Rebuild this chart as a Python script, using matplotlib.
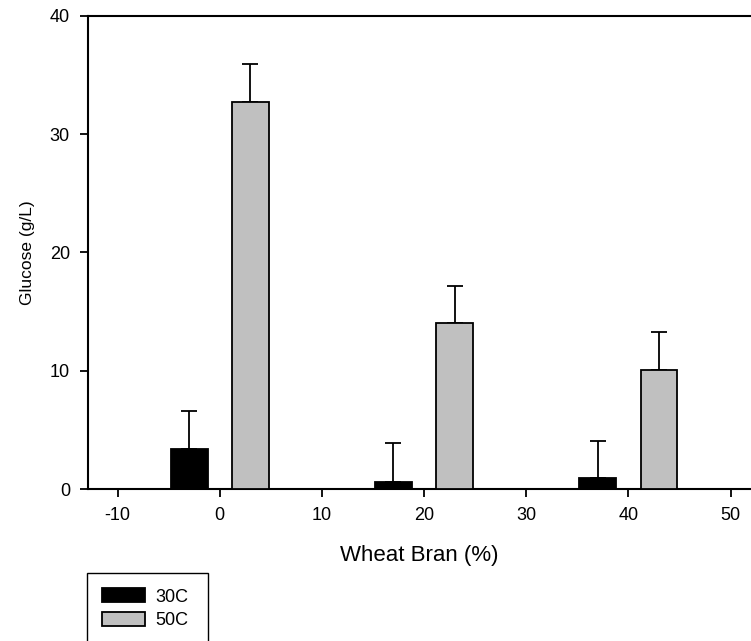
import matplotlib.pyplot as plt
import numpy as np

plt.rcParams["font.family"] = ["Liberation Sans", "DejaVu Sans"]
plt.rcParams["axes.unicode_minus"] = False

wheat_bran = [0, 20, 40]
glucose_30c = [3.42, 0.62, 0.90]
err_30c = [3.15, 3.25, 3.2]
glucose_50c = [32.7, 14.0, 10.1]
err_50c = [3.2, 3.2, 3.2]

fig = plt.figure(figsize=(7.51, 6.41), dpi=100)
ax = fig.add_axes([88 / 751, 1 - 489 / 641, 1 - 88 / 751, (489 - 16) / 641])

x = np.array(wheat_bran, dtype=float)
off = 3.0
width = 3.6

ax.bar(x - off, glucose_30c, width, color="black", edgecolor="black",
       linewidth=1.3, label="30C", zorder=3)
ax.bar(x + off, glucose_50c, width, color="#c0c0c0", edgecolor="black",
       linewidth=1.3, label="50C", zorder=3)
ax.errorbar(x - off, glucose_30c, yerr=[np.zeros(3), err_30c], fmt="none",
            ecolor="black", elinewidth=1.3, capsize=5.5, capthick=1.3, zorder=2)
ax.errorbar(x + off, glucose_50c, yerr=[np.zeros(3), err_50c], fmt="none",
            ecolor="black", elinewidth=1.3, capsize=5.5, capthick=1.3, zorder=2)

ax.set_xlim(-12.9, 52)
ax.set_ylim(0, 40)
ax.set_xticks([-10, 0, 10, 20, 30, 40, 50])
ax.set_yticks([0, 10, 20, 30, 40])
ax.tick_params(direction="out", length=6, width=1.3, labelsize=13, pad=7)

ax.spines["right"].set_visible(False)
for s in ["left", "top", "bottom"]:
    ax.spines[s].set_linewidth(1.5)

ax.set_xlabel("Wheat Bran (%)", fontsize=16, labelpad=15)
ax.set_ylabel("Glucose (g/L)", fontsize=12.5, labelpad=11)

top = 1 - 573 / 641
leg = fig.legend(loc="upper left", bbox_to_anchor=(87 / 751, top - 0.1, 121 / 751, 0.1),
                 mode="expand", fontsize=13, frameon=True, fancybox=False,
                 edgecolor="black", framealpha=1, handlelength=2.36, handleheight=0.8,
                 handletextpad=0.55, borderpad=0.85, labelspacing=0.37, borderaxespad=0)
leg.get_frame().set_linewidth(1.0)

plt.savefig("out.png", dpi=100)
